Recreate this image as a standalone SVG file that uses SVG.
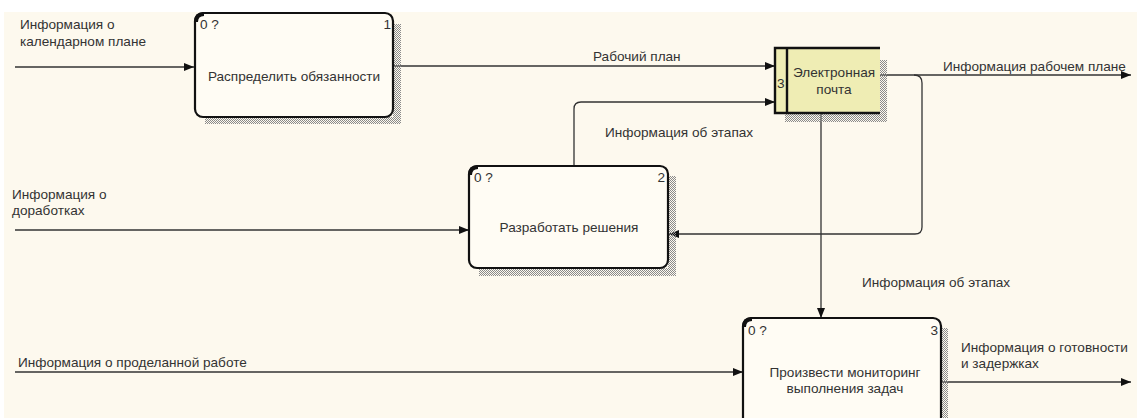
<svg xmlns="http://www.w3.org/2000/svg" width="1137" height="418" viewBox="0 0 1137 418">
<defs>
<style>
text{font-family:"Liberation Sans",Arial,sans-serif;font-size:13.6px;fill:#333}
.mid{text-anchor:middle}
.end{text-anchor:end}
.box{fill:#FFFCF4;stroke:#111;stroke-width:2.2}
.corner{fill:none;stroke:#111;stroke-width:4}
.line{fill:none;stroke:#333;stroke-width:1.3}
.thick{fill:none;stroke:#111;stroke-width:2.4}
</style>
<pattern id="hatch" width="2" height="2" patternUnits="userSpaceOnUse">
<rect width="1" height="1" fill="#8a8a8a"/>
<rect x="1" y="1" width="1" height="1" fill="#8a8a8a"/>
</pattern>
<marker id="arr" viewBox="0 0 10 8" refX="10" refY="4" markerWidth="10" markerHeight="8" markerUnits="userSpaceOnUse" orient="auto">
<path d="M0,0 L10,4 L0,8 Z" fill="#111"/>
</marker>
</defs>
<rect width="1137" height="418" fill="#ffffff"/>
<rect x="4" y="12" width="1133" height="406" fill="#FDF9EE"/>

<g id="connectors">
<path class="line" d="M15,67 H194" marker-end="url(#arr)"/>
<path class="line" d="M393,66 H775" marker-end="url(#arr)"/>
<path class="line" d="M574,166 V109 Q574,102 581,102 H775" marker-end="url(#arr)"/>
<path class="line" d="M880,75 H1131" marker-end="url(#arr)"/>
<path class="line" d="M914,75 Q922,75 922,83 V227 Q922,234 915,234 H669" marker-end="url(#arr)"/>
<path class="line" d="M821,113 V318" marker-end="url(#arr)"/>
<path class="line" d="M15,230 H469" marker-end="url(#arr)"/>
<path class="line" d="M15,372 H743" marker-end="url(#arr)"/>
<path class="line" d="M941,382 H1131" marker-end="url(#arr)"/>
</g>

<g id="labels">
<text x="20" y="29">Информация о</text>
<text x="20" y="46">календарном плане</text>
<text x="593" y="61">Рабочий план</text>
<text x="605" y="137">Информация об этапах</text>
<text x="943" y="71">Информация рабочем плане</text>
<text x="12" y="199">Информация о</text>
<text x="12" y="215">доработках</text>
<text x="862" y="287">Информация об этапах</text>
<text x="18" y="367">Информация о проделанной работе</text>
<text x="961" y="352">Информация о готовности</text>
<text x="961" y="368">и задержках</text>
</g>

<g id="node1">
<path d="M393,24 H401 V124 H205 V117 H393 Z" fill="url(#hatch)"/>
<rect class="box" x="195" y="13" width="198" height="104" rx="8"/>
<path class="corner" d="M196,22 Q196,14 204,14"/>
<text x="200" y="29">0 ?</text>
<text class="end" x="391" y="29">1</text>
<text class="mid" x="294" y="81">Распределить обязанности</text>
</g>

<g id="node2">
<path d="M668,176 H676 V276 H479 V268 H668 Z" fill="url(#hatch)"/>
<rect class="box" x="469" y="166" width="199" height="102" rx="8"/>
<path class="corner" d="M470,175 Q470,167 478,167"/>
<text x="474" y="182">0 ?</text>
<text class="end" x="665" y="182">2</text>
<text class="mid" x="569" y="232">Разработать решения</text>
</g>

<g id="node3">
<path d="M941,328 H948 V430 H941 Z" fill="url(#hatch)"/>
<rect class="box" x="743" y="318" width="198" height="120" rx="8"/>
<path class="corner" d="M744,327 Q744,319 752,319"/>
<text x="748" y="335">0 ?</text>
<text class="end" x="938" y="335">3</text>
<text class="mid" x="845" y="377">Произвести мониторинг</text>
<text class="mid" x="845" y="393">выполнения задач</text>
</g>

<g id="node4">
<path d="M880,60 H887 V122 H785 V113 H880 Z" fill="url(#hatch)"/>
<rect x="775" y="48" width="105" height="65" fill="#EFEDB4"/>
<path class="thick" d="M880,48 H775 V113 H880 M787,48 V113"/>
<text x="777" y="88">3</text>
<text class="mid" x="834" y="77">Электронная</text>
<text class="mid" x="834" y="94">почта</text>
</g>
</svg>
